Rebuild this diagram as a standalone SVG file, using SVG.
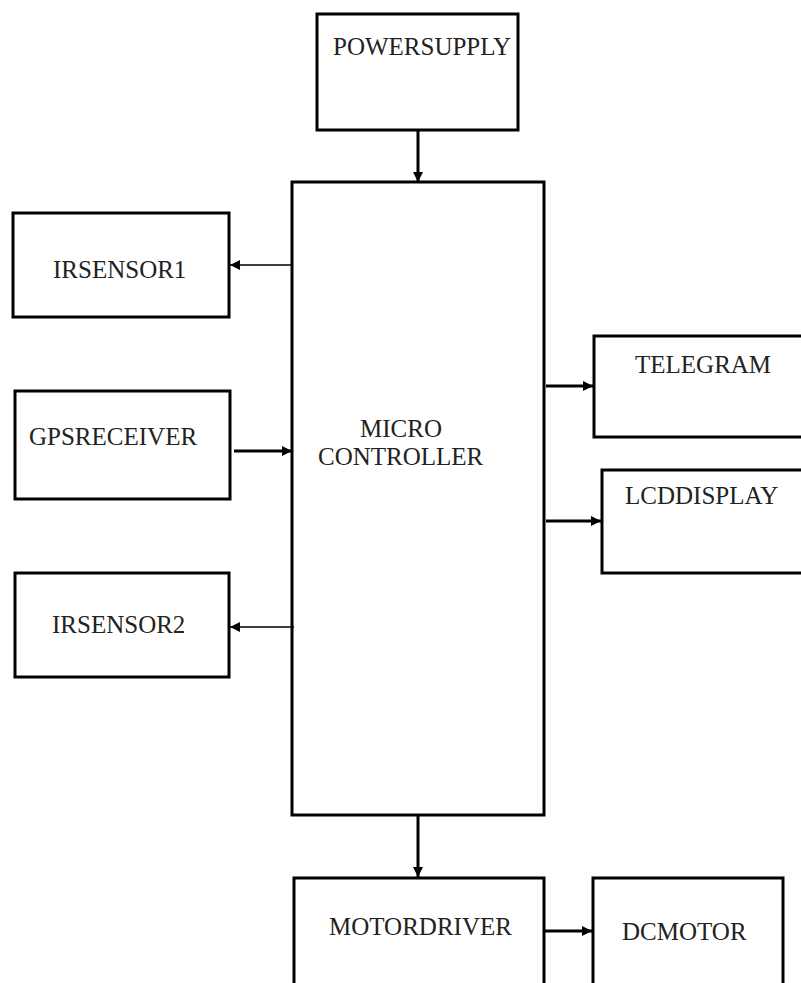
<svg xmlns="http://www.w3.org/2000/svg" width="801" height="983" viewBox="0 0 801 983">
<defs>
<style>
.box{fill:#fff;stroke:#000;stroke-width:3}
.lbl{font-family:"Liberation Serif","Times New Roman",serif;font-size:25px;fill:#222}
.c{stroke:#000;stroke-width:3;fill:none}
.t{stroke:#000;stroke-width:1.3;fill:none}
</style>
<marker id="ah" markerWidth="10" markerHeight="10" refX="10" refY="5" orient="auto" markerUnits="userSpaceOnUse">
<path d="M0,0 L10,5 L0,10 Z" fill="#000"/>
</marker>
</defs>
<rect width="801" height="983" fill="#fff"/>
<g id="powersupply"><rect class="box" x="317" y="14" width="201" height="116"/><text class="lbl" x="333" y="55">POWERSUPPLY</text></g>
<g id="microcontroller"><rect class="box" x="292" y="182" width="252" height="633"/><text class="lbl" x="360" y="437">MICRO</text><text class="lbl" x="318" y="465">CONTROLLER</text></g>
<g id="irsensor1"><rect class="box" x="13" y="213" width="216" height="104"/><text class="lbl" x="53" y="278">IRSENSOR1</text></g>
<g id="gpsreceiver"><rect class="box" x="15" y="391" width="215" height="108"/><text class="lbl" x="29" y="445">GPSRECEIVER</text></g>
<g id="irsensor2"><rect class="box" x="15" y="573" width="214" height="104"/><text class="lbl" x="52" y="633">IRSENSOR2</text></g>
<g id="telegram"><rect class="box" x="594" y="336" width="212" height="101"/><text class="lbl" x="635" y="373">TELEGRAM</text></g>
<g id="lcddisplay"><rect class="box" x="602" y="470" width="204" height="103"/><text class="lbl" x="625" y="504">LCDDISPLAY</text></g>
<g id="motordriver"><rect class="box" x="294" y="878" width="250" height="110"/><text class="lbl" x="329" y="935">MOTORDRIVER</text></g>
<g id="dcmotor"><rect class="box" x="593" y="878" width="190" height="110"/><text class="lbl" x="622" y="940">DCMOTOR</text></g>
<g id="connectors">
<line class="c" x1="418" y1="130" x2="418" y2="182" marker-end="url(#ah)"/>
<line class="t" x1="292" y1="265" x2="230" y2="265" marker-end="url(#ah)"/>
<line class="c" x1="234" y1="451" x2="292" y2="451" marker-end="url(#ah)"/>
<line class="t" x1="294" y1="627" x2="230" y2="627" marker-end="url(#ah)"/>
<line class="c" x1="546" y1="386" x2="593" y2="386" marker-end="url(#ah)"/>
<line class="c" x1="546" y1="521" x2="601" y2="521" marker-end="url(#ah)"/>
<line class="c" x1="418" y1="815" x2="418" y2="877" marker-end="url(#ah)"/>
<line class="c" x1="544" y1="931" x2="592" y2="931" marker-end="url(#ah)"/>
</g>
</svg>
